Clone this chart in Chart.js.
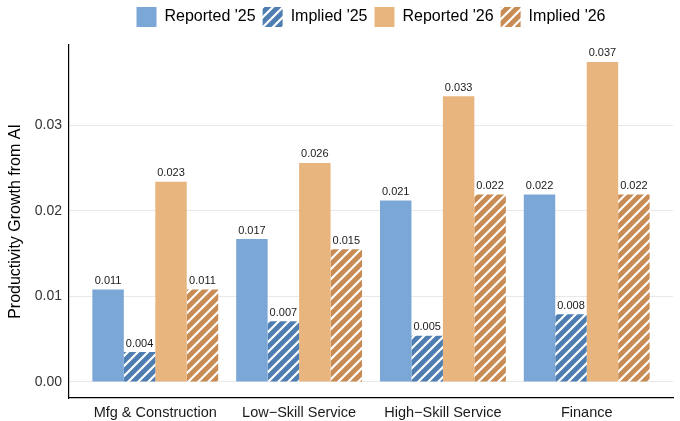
<!doctype html>
<html lang="en">
<head>
  <meta charset="utf-8">
  <title>Productivity Growth from AI</title>
  <style>
    * { margin: 0; padding: 0; }
    body { background: white; }
  </style>
</head>
<body>
  <canvas id="myChart" width="680" height="421"></canvas>

  <script src="https://cdn.jsdelivr.net/npm/chart.js"></script>
  <script>
    // data
    const categories = ['Mfg & Construction', 'Low\u2212Skill Service', 'High\u2212Skill Service', 'Finance'];
    const reported25 = [0.0108, 0.0167, 0.0212, 0.0219];
    const implied25  = [0.0035, 0.0071, 0.0054, 0.0079];
    const reported26 = [0.0234, 0.0256, 0.0334, 0.0374];
    const implied26  = [0.0108, 0.0155, 0.0219, 0.0219];
    const yTicks = [0, 0.01, 0.02, 0.03];

    Chart.defaults.font.family = '"Liberation Sans", Arial, sans-serif';

    // diagonal white stripes
    function hatch(color) {
      const s = 10;
      const c = document.createElement('canvas');
      c.width = s; c.height = s;
      const g = c.getContext('2d');
      g.fillStyle = color;
      g.fillRect(0, 0, s, s);
      g.strokeStyle = 'white';
      g.lineWidth = 2.2;
      g.beginPath();
      g.moveTo(-1, s + 1); g.lineTo(s + 1, -1);
      g.moveTo(-2, 2); g.lineTo(2, -2);
      g.moveTo(s - 2, s + 2); g.lineTo(s + 2, s - 2);
      g.stroke();
      return g.createPattern(c, 'repeat');
    }

    const toPoints = arr => arr.map((v, i) => ({ x: i, y: v }));

    // value labels above the bars
    const barLabels = {
      id: 'barLabels',
      afterDatasetsDraw(chart) {
        const ctx = chart.ctx;
        ctx.save();
        ctx.font = '11px "Liberation Sans", Arial, sans-serif';
        ctx.fillStyle = '#1a1a1a';
        ctx.textAlign = 'center';
        ctx.textBaseline = 'bottom';
        chart.data.datasets.forEach((ds, di) => {
          chart.getDatasetMeta(di).data.forEach((bar, i) => {
            ctx.fillText(ds.data[i].y.toFixed(3), bar.x, bar.y - 3);
          });
        });
        ctx.restore();
      }
    };

    // extra space under the legend
    const legendSpacer = {
      id: 'legendSpacer',
      beforeInit(chart) {
        const fit = chart.legend.fit;
        chart.legend.fit = function () {
          fit.bind(chart.legend)();
          this.height += 8;
        };
      }
    };

    const data = {
      datasets: [
        { label: "Reported '25", data: toPoints(reported25), backgroundColor: '#7ba7d7', borderWidth: 0 },
        { label: "Implied '25", data: toPoints(implied25), backgroundColor: hatch('#4d7db1'), borderWidth: 0 },
        { label: "Reported '26", data: toPoints(reported26), backgroundColor: '#e9b57e', borderWidth: 0 },
        { label: "Implied '26", data: toPoints(implied26), backgroundColor: hatch('#c88b53'), borderWidth: 0 }
      ]
    };

    const config = {
      type: 'bar',
      data,
      options: {
        responsive: false,
        animation: false,
        categoryPercentage: 0.875,
        barPercentage: 1,
        layout: { padding: { left: 0, right: 7, top: 0, bottom: 0 } },
        scales: {
          x: {
            type: 'linear',
            offset: false,
            min: -0.6,
            max: 3.6,
            afterBuildTicks: scale => { scale.ticks = categories.map((c, i) => ({ value: i })); },
            afterFit: scale => { scale.height = 23; },
            ticks: {
              autoSkip: false,
              maxRotation: 0,
              padding: 6,
              color: '#1a1a1a',
              font: { size: 14.5 },
              callback: v => categories[v]
            },
            grid: { display: false, drawTicks: false, offset: false },
            border: { display: true, color: '#000', width: 1.2 }
          },
          y: {
            min: -0.001875,
            max: 0.039375,
            afterBuildTicks: scale => { scale.ticks = yTicks.map(v => ({ value: v })); },
            afterFit: scale => { scale.width = 69; },
            ticks: {
              padding: 7,
              color: '#333',
              font: { size: 14 },
              callback: v => v.toFixed(2)
            },
            grid: { color: '#e8e8e8', lineWidth: 1, drawTicks: false },
            border: { display: true, color: '#000', width: 1.2 },
            title: {
              display: true,
              text: 'Productivity Growth from AI',
              color: '#000',
              font: { size: 16 },
              padding: { top: 6, bottom: 0 }
            }
          }
        },
        plugins: {
          legend: {
            position: 'top',
            fullSize: false,
            labels: {
              boxWidth: 20,
              boxHeight: 20,
              padding: 7,
              color: '#000',
              font: { size: 16 }
            }
          },
          tooltip: { enabled: false }
        }
      },
      plugins: [barLabels, legendSpacer]
    };

    const myChart = new Chart(document.getElementById('myChart'), config);
  </script>
</body>
</html>
